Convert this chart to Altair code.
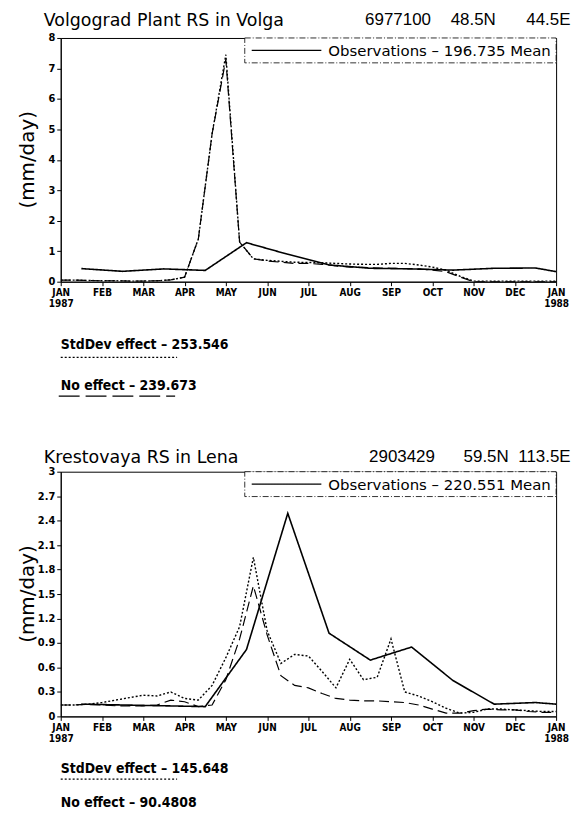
import altair as alt
import pandas as pd

# ---------------- data ----------------
MONTHS = ["JAN", "FEB", "MAR", "APR", "MAY", "JUN", "JUL", "AUG", "SEP", "OCT", "NOV", "DEC"]
YEAR_START = "1987"
YEAR_END = "1988"
SERIES = ["Observations", "StdDev effect", "No effect"]

# time axis in months since 1 Jan 1987: observations monthly (mid-month), simulations per dekad
OBS_T = [0.5, 1.5, 2.5, 3.5, 4.5, 5.5, 6.5, 7.5, 8.5, 9.5, 10.5, 11.5, 12.0]
DEKAD_T = [k / 3 for k in range(36)] + [12.0]

# Panel 1: Volgograd Plant RS in Volga
volga_obs = [0.43, 0.34, 0.42, 0.37, 1.28, 0.90, 0.55, 0.44, 0.42, 0.38, 0.44, 0.45, 0.33]
volga_std = [0.05, 0.05, 0.04, 0.03, 0.03, 0.02, 0.02, 0.03, 0.06, 0.15, 1.40, 4.85,
             7.45, 1.30, 0.75, 0.70, 0.67, 0.64, 0.63, 0.62, 0.60, 0.58, 0.57, 0.57,
             0.60, 0.60, 0.55, 0.48, 0.38, 0.18, 0.02, 0.02, 0.02, 0.02, 0.02, 0.02, 0.02]
volga_no = [0.05, 0.05, 0.04, 0.03, 0.03, 0.02, 0.02, 0.03, 0.06, 0.15, 1.40, 4.85,
            7.30, 1.30, 0.75, 0.68, 0.64, 0.60, 0.60, 0.57, 0.52, 0.48, 0.47, 0.45,
            0.44, 0.43, 0.42, 0.38, 0.33, 0.16, 0.00, 0.00, 0.00, 0.00, 0.00, 0.00, 0.00]
volga_yticks = [0, 1, 2, 3, 4, 5, 6, 7, 8]

# Panel 2: Krestovaya RS in Lena
lena_obs = [0.15, 0.14, 0.13, 0.12, 0.82, 2.49, 1.02, 0.69, 0.85, 0.44, 0.15, 0.17, 0.15]
lena_std = [0.14, 0.14, 0.15, 0.17, 0.20, 0.23, 0.26, 0.25, 0.30, 0.22, 0.20, 0.38,
            0.72, 1.10, 1.95, 1.05, 0.65, 0.76, 0.74, 0.55, 0.35, 0.70, 0.45, 0.48,
            0.95, 0.30, 0.25, 0.18, 0.10, 0.04, 0.05, 0.09, 0.09, 0.08, 0.07, 0.06, 0.06]
lena_no = [0.14, 0.14, 0.15, 0.14, 0.13, 0.13, 0.13, 0.14, 0.20, 0.18, 0.12, 0.14,
           0.45, 0.95, 1.60, 1.00, 0.50, 0.38, 0.35, 0.28, 0.22, 0.20, 0.19, 0.19,
           0.18, 0.17, 0.14, 0.09, 0.04, 0.04, 0.07, 0.09, 0.08, 0.08, 0.06, 0.05, 0.05]
lena_yticks = [0, 0.3, 0.6, 0.9, 1.2, 1.5, 1.8, 2.1, 2.4, 2.7, 3]

PANELS = [
    dict(title="Volgograd Plant RS in Volga", station=["6977100", "48.5N", "44.5E"],
         obs=volga_obs, std=volga_std, no=volga_no, ymax=8, yticks=volga_yticks,
         obs_mean="196.735", std_val="253.546", no_val="239.673"),
    dict(title="Krestovaya RS in Lena", station=["2903429", "59.5N", "113.5E"],
         obs=lena_obs, std=lena_std, no=lena_no, ymax=3, yticks=lena_yticks,
         obs_mean="220.551", std_val="145.648", no_val="90.4808"),
]

# ---------------- styling ----------------
W = 498
HEIGHTS = [245, 246]
TITLE_FONT = "DejaVu Sans, Liberation Sans, sans-serif"
STATION_FONT = "Liberation Sans, Arial, sans-serif"
NARROW = "Liberation Sans Narrow, Arial Narrow, DejaVu Sans Condensed, sans-serif"
DASH = {"Observations": [1, 0], "StdDev effect": [2, 2], "No effect": [10, 5]}
WIDTH = {"Observations": 1.6, "StdDev effect": 1.2, "No effect": 1.4}

month_arr = "[" + ",".join("'%s'" % m for m in MONTHS) + "]"
x_label_expr = (
    "datum.value == 0 ? ['%s','%s'] : datum.value == 12 ? ['%s','%s'] : %s[datum.value]"
    % (MONTHS[0], YEAR_START, MONTHS[0], YEAR_END, month_arr)
)

one = pd.DataFrame({"k": [0]})

# pixel layouts for decorations (relative to plot area)
LAYOUT = [
    dict(title_y=-26, station_x=[306, 392, 468], std_y=309, std_ul=321, no_y=350, no_ul=360, no_ul_show=True),
    dict(title_y=-23, station_x=[310, 405, 460], std_y=299, std_ul=309, no_y=333, no_ul=343, no_ul_show=False),
]


def text(t, x, y, size, font, weight="normal", align="left", baseline="alphabetic", angle=0):
    kw = dict(text=t, fontSize=size, font=font, fontWeight=weight, align=align,
              baseline=baseline, color="black")
    if angle:
        kw["angle"] = angle
    return alt.Chart(one).mark_text(**kw).encode(x=alt.value(x), y=alt.value(y))


def rule(x1, x2, y, dash, width=1.0):
    return alt.Chart(one).mark_rule(color="black", strokeDash=dash, strokeWidth=width).encode(
        x=alt.value(x1), x2=alt.value(x2), y=alt.value(y))


def panel(p, lay, h):
    rows = []
    for t, v in zip(OBS_T, p["obs"]):
        rows.append({"t": t, "v": v, "s": "Observations"})
    for t, v in zip(DEKAD_T, p["std"]):
        rows.append({"t": t, "v": v, "s": "StdDev effect"})
    for t, v in zip(DEKAD_T, p["no"]):
        rows.append({"t": t, "v": v, "s": "No effect"})
    df = pd.DataFrame(rows)

    x = alt.X("t:Q", scale=alt.Scale(domain=[0, 12], nice=False, zero=False),
              axis=alt.Axis(values=list(range(13)), labelExpr=x_label_expr, title=None,
                            grid=False, tickSize=4, tickColor="black", domainColor="black",
                            labelFont=NARROW, labelFontSize=10, labelFontWeight="bold",
                            labelColor="black", labelLineHeight=11, labelOverlap=False,
                            labelFlush=False, labelPadding=2))
    y = alt.Y("v:Q", scale=alt.Scale(domain=[0, p["ymax"]], nice=False, zero=True),
              axis=alt.Axis(values=p["yticks"], format="~g", title=None, grid=False,
                            tickSize=4, tickColor="black", domainColor="black",
                            labelFont=NARROW, labelFontSize=11, labelFontWeight="bold",
                            labelColor="black", labelPadding=2))

    lines = alt.Chart(df).mark_line(color="black", clip=True).encode(
        x=x, y=y,
        strokeDash=alt.StrokeDash("s:N", scale=alt.Scale(domain=SERIES, range=[DASH[s] for s in SERIES]), legend=None),
        strokeWidth=alt.StrokeWidth("s:N", scale=alt.Scale(domain=SERIES, range=[WIDTH[s] for s in SERIES]), legend=None),
    )

    layers = [lines]
    # legend box
    layers.append(alt.Chart(one).mark_rect(fill="white", stroke="black", strokeWidth=0.8,
                                           strokeDash=[6, 2, 1, 2]).encode(
        x=alt.value(185), x2=alt.value(W), y=alt.value(0), y2=alt.value(25)))
    layers.append(rule(192, 262, 12.5, [1, 0], 1.4))
    layers.append(text("Observations  \u2013  %s  Mean" % p["obs_mean"], 269, 13, 15, TITLE_FONT,
                       baseline="middle"))
    # titles
    layers.append(text(p["title"], -17, lay["title_y"], 17.5, TITLE_FONT, baseline="top"))
    for s, xl in zip(p["station"], lay["station_x"]):
        layers.append(text(s, xl, lay["title_y"], 17, STATION_FONT, align="left", baseline="top"))
    # y title
    layers.append(text("(mm/day)", -33, h / 2, 20, TITLE_FONT, align="center", baseline="middle", angle=270))
    # footers
    layers.append(text("StdDev effect  \u2013  %s" % p["std_val"], 0, lay["std_y"], 14, NARROW, weight="bold",
                       baseline="middle"))
    layers.append(rule(0, 117, lay["std_ul"], DASH["StdDev effect"], 1.2))
    layers.append(text("No effect  \u2013  %s" % p["no_val"], 0, lay["no_y"], 14, NARROW, weight="bold",
                       baseline="middle"))
    if lay["no_ul_show"]:
        layers.append(rule(-2, 115, lay["no_ul"], [21, 6], 1.4))

    return alt.layer(*layers).properties(width=W, height=h)


charts = [panel(p, lay, h) for p, lay, h in zip(PANELS, LAYOUT, HEIGHTS)]

chart = alt.vconcat(*charts, spacing=191, bounds="flush").properties(
    padding={"left": 9, "top": 0, "right": 5, "bottom": 5}
).configure_view(stroke="black", strokeWidth=1).configure_axis(domainWidth=1, tickWidth=1)

chart.save("out.html", embed_options={"renderer": "svg", "actions": False})
